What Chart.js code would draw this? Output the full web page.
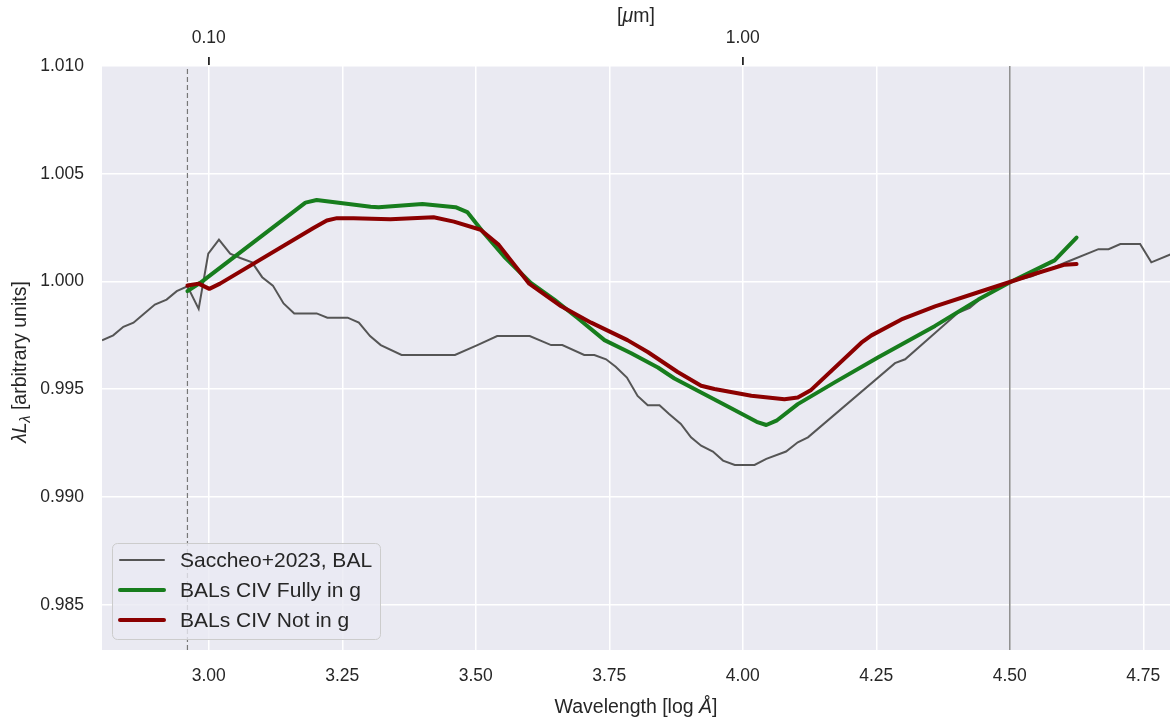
<!DOCTYPE html>
<html>
<head>
<meta charset="utf-8">
<script src="https://cdn.jsdelivr.net/npm/chart.js@4"></script>
<style>
  html, body { margin: 0; padding: 0; background: #ffffff; }
  #wrap { width: 1171px; height: 717px; }
</style>
</head>
<body>
<div id="wrap"><canvas id="myChart" width="1171" height="717"></canvas></div>
<script>
// Saccheo+2023 BAL composite (log wavelength, normalised luminosity)
const saccheoX = [2.800, 2.821, 2.840, 2.859, 2.877, 2.899, 2.921, 2.940, 2.960, 2.981,
    2.999, 3.019, 3.040, 3.059, 3.081, 3.100, 3.120, 3.140, 3.160, 3.202,
    3.222, 3.260, 3.281, 3.302, 3.322, 3.361, 3.461, 3.503, 3.540, 3.601,
    3.641, 3.662, 3.703, 3.722, 3.744, 3.762, 3.783, 3.803, 3.822, 3.844,
    3.862, 3.884, 3.903, 3.922, 3.944, 3.963, 3.985, 4.022, 4.044, 4.081,
    4.103, 4.122, 4.285, 4.304, 4.403, 4.425, 4.447, 4.503, 4.541, 4.609,
    4.666, 4.685, 4.707, 4.744, 4.765, 4.804];
const saccheoY = [0.99727, 0.99750, 0.99790, 0.99809, 0.99847, 0.99893, 0.99916, 0.99955, 0.99978, 0.99873,
    1.00129, 1.00194, 1.00129, 1.00109, 1.00089, 1.00020, 0.99981, 0.99898, 0.99852, 0.99852,
    0.99832, 0.99832, 0.99809, 0.99747, 0.99705, 0.99659, 0.99659, 0.99705, 0.99747, 0.99747,
    0.99705, 0.99705, 0.99659, 0.99659, 0.99639, 0.99604, 0.99554, 0.99469, 0.99426, 0.99426,
    0.99385, 0.99339, 0.99277, 0.99238, 0.99211, 0.99169, 0.99149, 0.99149, 0.99177, 0.99211,
    0.99254, 0.99277, 0.99621, 0.99639, 0.99855, 0.99878, 0.99924, 1.00000, 1.00024, 1.00093,
    1.00150, 1.00150, 1.00174, 1.00174, 1.00089, 1.00129];

// BALs with CIV fully in g band
const fullyX = [2.960, 2.984, 3.181, 3.202, 3.303, 3.318, 3.400, 3.462, 3.484, 3.515,
    3.553, 3.603, 3.647, 3.690, 3.741, 3.791, 3.841, 3.872, 3.922, 3.972,
    4.026, 4.044, 4.063, 4.103, 4.172, 4.253, 4.360, 4.441, 4.503, 4.584, 4.625];
const fullyY = [0.99955, 0.99994, 1.00366, 1.00378, 1.00347, 1.00345, 1.00360, 1.00345, 1.00322, 1.00225,
    1.00116, 0.99993, 0.99916, 0.99832, 0.99728, 0.99667, 0.99601, 0.99550, 0.99485, 0.99420,
    0.99349, 0.99334, 0.99354, 0.99431, 0.99532, 0.99647, 0.99794, 0.99916, 1.00000, 1.00098, 1.00204];

// BALs with CIV not in g band
const notX = [2.960, 2.981, 3.001, 3.021, 3.196, 3.221, 3.240, 3.271, 3.340, 3.421,
    3.459, 3.509, 3.543, 3.600, 3.660, 3.716, 3.784, 3.822, 3.878, 3.922,
    3.947, 4.016, 4.078, 4.103, 4.128, 4.222, 4.241, 4.297, 4.360, 4.441,
    4.503, 4.547, 4.603, 4.625];
const notY = [0.99981, 0.99990, 0.99966, 0.99990, 1.00248, 1.00283, 1.00294, 1.00294, 1.00289, 1.00298,
    1.00278, 1.00240, 1.00170, 0.99990, 0.99885, 0.99809, 0.99728, 0.99673, 0.99580, 0.99516,
    0.99501, 0.99470, 0.99454, 0.99462, 0.99497, 0.99716, 0.99750, 0.99824, 0.99885, 0.99950,
    1.00000, 1.00036, 1.00078, 1.00081];

// axes
const xTicks = [3.00, 3.25, 3.50, 3.75, 4.00, 4.25, 4.50, 4.75];
const yTicks = [0.985, 0.990, 0.995, 1.000, 1.005, 1.010];
const topTicks = [3, 4]; // log(Angstrom) of 0.1 and 1 micron
const xMin = 2.8, xMax = 4.8;
const yMin = 0.9829, yMax = 1.010;
const lymanLimit = 2.96; // dashed line
const normPoint = 4.5;   // solid line

const seriesNames = ['Saccheo+2023, BAL', 'BALs CIV Fully in g', 'BALs CIV Not in g'];
const seriesColors = ['#555555', '#177d1d', '#8b0000'];
const seriesWidths = [2, 4, 4];

const FONT = "Arial, 'Liberation Sans', sans-serif";
const TXT = '#262626';

function toPoints(xs, ys) {
    return xs.map((x, i) => ({ x: x, y: ys[i] }));
}

// no extra side padding from the tick labels
function fixWidth(scale, h) {
    scale.height = h;
    scale.paddingLeft = 0;
    scale.paddingRight = 0;
}

// background of the plot area + legend + axis titles
const decorPlugin = {
    id: 'decor',
    beforeDraw(chart) {
        const a = chart.chartArea;
        const ctx = chart.ctx;
        ctx.save();
        ctx.fillStyle = '#eaeaf2';
        ctx.fillRect(a.left, a.top, a.right - a.left, a.bottom - a.top);
        ctx.restore();
    },
    afterDraw(chart) {
        const ctx = chart.ctx;
        const a = chart.chartArea;
        ctx.save();
        ctx.fillStyle = TXT;
        ctx.textBaseline = 'middle';

        // bottom title: Wavelength [log Å]
        drawMixed(ctx, [['Wavelength [log ', false], ['Å', true], [']', false]], (a.left + a.right) / 2, 708, 19.5);
        // top title: [μm]
        drawMixed(ctx, [['[', false], ['μ', true], ['m]', false]], (a.left + a.right) / 2, 17, 19.5);

        // y title: λL_λ [arbitrary units]
        ctx.save();
        ctx.translate(21, (a.top + a.bottom) / 2 + 4);
        ctx.rotate(-Math.PI / 2);
        const parts = [['λL', true, 19.5, 0], ['λ', true, 14, 5], [' [arbitrary units]', false, 19.5, 0]];
        let total = 0;
        parts.forEach(p => {
            ctx.font = (p[1] ? 'italic ' : '') + p[2] + 'px ' + FONT;
            total += ctx.measureText(p[0]).width;
        });
        let x = -total / 2;
        ctx.textAlign = 'left';
        parts.forEach(p => {
            ctx.font = (p[1] ? 'italic ' : '') + p[2] + 'px ' + FONT;
            ctx.fillText(p[0], x, p[3]);
            x += ctx.measureText(p[0]).width;
        });
        ctx.restore();

        // legend
        const bx = 112.5, by = 543.5, bw = 268, bh = 96;
        ctx.beginPath();
        ctx.roundRect(bx, by, bw, bh, 5);
        ctx.fillStyle = 'rgba(234,234,242,0.8)';
        ctx.fill();
        ctx.strokeStyle = '#cccccc';
        ctx.lineWidth = 1;
        ctx.stroke();
        const rows = [560, 590, 620];
        seriesNames.forEach((name, i) => {
            ctx.beginPath();
            ctx.moveTo(120, rows[i]);
            ctx.lineTo(164, rows[i]);
            ctx.strokeStyle = seriesColors[i];
            ctx.lineWidth = seriesWidths[i];
            ctx.lineCap = 'round';
            ctx.stroke();
            ctx.fillStyle = TXT;
            ctx.font = '21px ' + FONT;
            ctx.textAlign = 'left';
            ctx.fillText(name, 180, rows[i] + 1);
        });
        ctx.restore();
    }
};

function drawMixed(ctx, parts, cx, cy, size) {
    let total = 0;
    parts.forEach(p => {
        ctx.font = (p[1] ? 'italic ' : '') + size + 'px ' + FONT;
        total += ctx.measureText(p[0]).width;
    });
    let x = cx - total / 2;
    ctx.textAlign = 'left';
    parts.forEach(p => {
        ctx.font = (p[1] ? 'italic ' : '') + size + 'px ' + FONT;
        ctx.fillText(p[0], x, cy);
        x += ctx.measureText(p[0]).width;
    });
}

const ctx = document.getElementById('myChart').getContext('2d');
const myChart = new Chart(ctx, {
    type: 'scatter',
    data: {
        datasets: [
            {
                label: seriesNames[0],
                data: toPoints(saccheoX, saccheoY),
                showLine: true,
                borderColor: seriesColors[0],
                borderWidth: seriesWidths[0],
                pointRadius: 0,
                order: 3
            },
            {
                label: seriesNames[1],
                data: toPoints(fullyX, fullyY),
                showLine: true,
                borderColor: seriesColors[1],
                borderWidth: seriesWidths[1],
                pointRadius: 0,
                borderCapStyle: 'round',
                borderJoinStyle: 'round',
                order: 2
            },
            {
                label: seriesNames[2],
                data: toPoints(notX, notY),
                showLine: true,
                borderColor: seriesColors[2],
                borderWidth: seriesWidths[2],
                pointRadius: 0,
                borderCapStyle: 'round',
                borderJoinStyle: 'round',
                order: 1
            },
            {
                label: 'lyman',
                data: [{ x: lymanLimit, y: yMin }, { x: lymanLimit, y: yMax }],
                showLine: true,
                borderColor: '#777777',
                borderWidth: 1.2,
                borderDash: [5, 3],
                pointRadius: 0,
                order: 5
            },
            {
                label: 'norm',
                data: [{ x: normPoint, y: yMin }, { x: normPoint, y: yMax }],
                showLine: true,
                borderColor: '#8c8c8c',
                borderWidth: 1.5,
                pointRadius: 0,
                order: 4
            }
        ]
    },
    options: {
        responsive: false,
        animation: false,
        layout: { padding: { left: 0, right: 1, top: 0, bottom: 0 } },
        plugins: {
            legend: { display: false },
            tooltip: { enabled: false }
        },
        scales: {
            x: {
                type: 'linear',
                position: 'bottom',
                min: xMin,
                max: xMax,
                afterBuildTicks: scale => { scale.ticks = xTicks.map(v => ({ value: v })); },
                afterFit: scale => { fixWidth(scale, 67); },
                grid: { color: '#ffffff', lineWidth: 1.5, drawTicks: false },
                border: { display: false },
                ticks: {
                    color: TXT,
                    padding: 16,
                    maxRotation: 0,
                    font: { family: FONT, size: 17.5 },
                    callback: v => v.toFixed(2)
                }
            },
            xTop: {
                type: 'linear',
                position: 'top',
                min: xMin,
                max: xMax,
                afterBuildTicks: scale => { scale.ticks = topTicks.map(v => ({ value: v })); },
                afterFit: scale => { fixWidth(scale, 66); },
                grid: { display: true, drawOnChartArea: false, drawTicks: true, tickLength: 9, color: TXT, lineWidth: 1.8 },
                border: { display: false },
                ticks: {
                    color: TXT,
                    padding: 8,
                    maxRotation: 0,
                    font: { family: FONT, size: 17.5 },
                    callback: v => (Math.pow(10, v) / 10000).toFixed(2)
                }
            },
            y: {
                type: 'linear',
                min: yMin,
                max: yMax,
                afterBuildTicks: scale => { scale.ticks = yTicks.map(v => ({ value: v })); },
                afterFit: scale => { scale.width = 102; scale.paddingTop = 0; scale.paddingBottom = 0; },
                grid: { color: '#ffffff', lineWidth: 1.5, drawTicks: false },
                border: { display: false },
                ticks: {
                    color: TXT,
                    padding: 18,
                    font: { family: FONT, size: 17.5 },
                    callback: v => v.toFixed(3)
                }
            }
        }
    },
    plugins: [decorPlugin]
});
</script>
</body>
</html>
